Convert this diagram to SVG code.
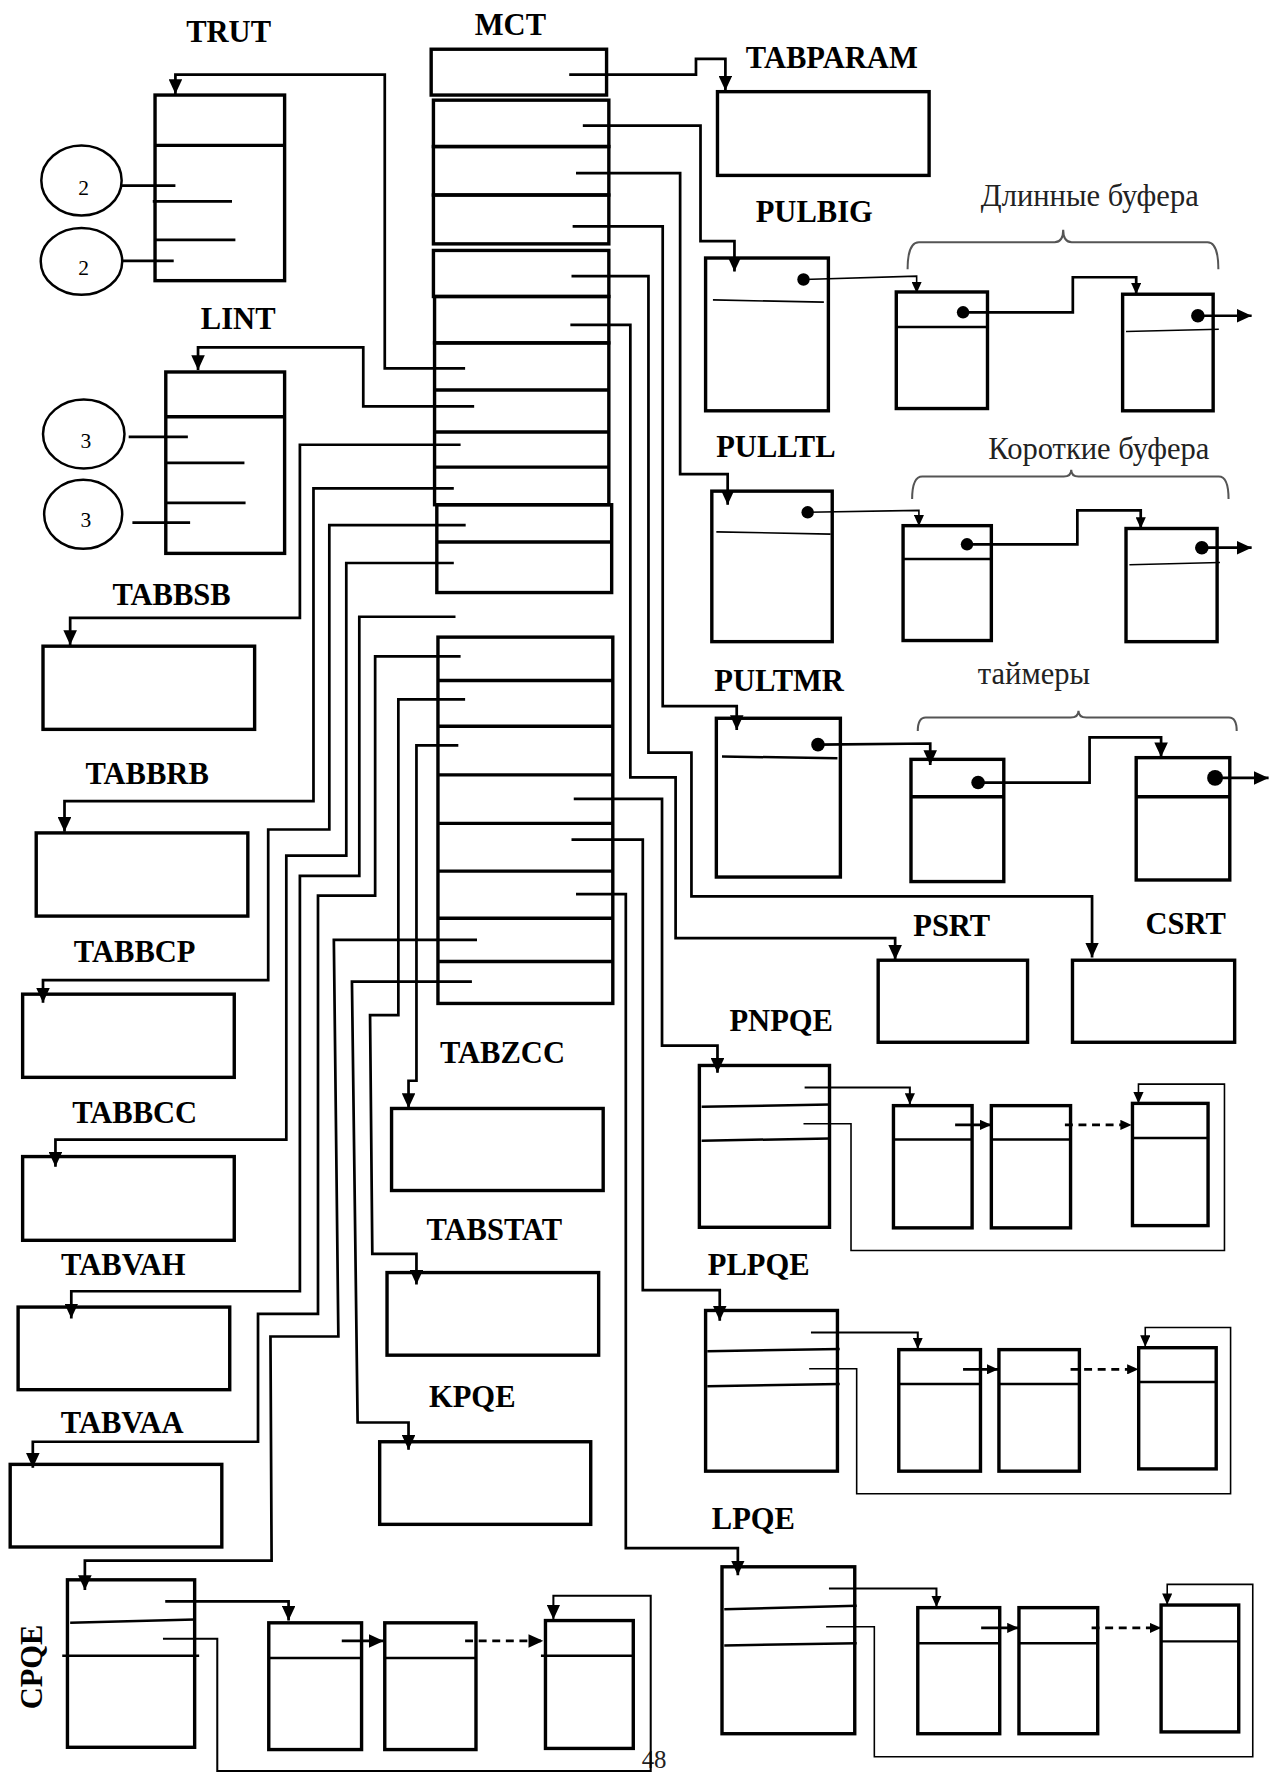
<svg xmlns="http://www.w3.org/2000/svg" width="1272" height="1775" viewBox="0 0 1272 1775">
<defs>
<style>
.b{fill:none;stroke:#000;stroke-width:3}
.t{fill:none;stroke:#000;stroke-width:1.4}
.m{fill:none;stroke:#000;stroke-width:2.2}
.c{fill:none;stroke:#000;stroke-width:2.4}
.cs{fill:none;stroke:#000;stroke-width:1.8}
.d{stroke-dasharray:7 5}
.br{fill:none;stroke:#555;stroke-width:1.8}
.L{font-family:"Liberation Serif","Times New Roman",serif;font-weight:bold;font-size:27px;text-anchor:middle;fill:#000}
.N{font-family:"Liberation Serif","Times New Roman",serif;font-size:27px;text-anchor:middle;fill:#222}
.dig{font-family:"Liberation Serif","Times New Roman",serif;font-size:19px;text-anchor:middle;fill:#000}
.dot{fill:#000}
</style>
<marker id="A" viewBox="0 0 13 12" refX="13" refY="6" markerWidth="13" markerHeight="12" markerUnits="userSpaceOnUse" orient="auto"><path d="M0,0L13,6L0,12z"/></marker>
<marker id="S" viewBox="0 0 10 9" refX="10" refY="4.5" markerWidth="10" markerHeight="9" markerUnits="userSpaceOnUse" orient="auto"><path d="M0,0L10,4.5L0,9z"/></marker>
</defs>
<rect width="1272" height="1775" fill="#fff"/>
<g transform="scale(1.13167)">

<g id="TRUT">
<text class="L" x="202" y="37">TRUT</text>
<rect class="b" x="137" y="84" width="114.5" height="164"/>
<line class="b" x1="137" y1="128.5" x2="251.5" y2="128.5"/>
<path class="c" d="M135,178H205M137,212H208"/>
<ellipse class="m" cx="72" cy="159.5" rx="35.5" ry="31"/>
<ellipse class="m" cx="72" cy="231" rx="36" ry="29.5"/>
<path class="c" d="M107.5,164H155M108,230.5H153.5"/>
<text class="dig" x="74" y="172">2</text>
<text class="dig" x="74" y="243">2</text>
</g>

<g id="LINT">
<text class="L" x="210.5" y="291">LINT</text>
<rect class="b" x="146.5" y="328.7" width="105" height="160.3"/>
<line class="b" x1="146.5" y1="368.2" x2="251.5" y2="368.2"/>
<path class="c" d="M147,409H216M147,444.3H217"/>
<ellipse class="m" cx="74" cy="383.5" rx="36" ry="30.5"/>
<ellipse class="m" cx="73.5" cy="454.5" rx="34.5" ry="30.5"/>
<path class="c" d="M113.7,386H166M117,461.8H168"/>
<text class="dig" x="75.8" y="396">3</text>
<text class="dig" x="75.8" y="465.5">3</text>
</g>

<g id="MCT">
<text class="L" x="451" y="31">MCT</text>
<rect class="b" x="381" y="43.5" width="155" height="40.5"/>
<rect class="b" x="383" y="88.5" width="155" height="41"/>
<rect class="b" x="383" y="129.5" width="155" height="42.8"/>
<rect class="b" x="383" y="172.3" width="155" height="43.2"/>
<rect class="b" x="383" y="221.3" width="155" height="40.7"/>
<rect class="b" x="384" y="262" width="154" height="41"/>
<rect class="b" x="384" y="303" width="154" height="143"/>
<path class="b" d="M384,344.6H538M384,381.8H538M384,412.8H538"/>
<rect class="b" x="386" y="446" width="154.5" height="77.6"/>
<line class="b" x1="386" y1="479" x2="540.5" y2="479"/>
<rect class="b" x="387" y="563" width="154.5" height="323.7"/>
<path class="b" d="M387,601.3H541.5M387,641.8H541.5M387,684.7H541.5M387,727.6H541.5M387,769.8H541.5M387,811.4H541.5M387,849.6H541.5"/>
</g>

<g id="TABPARAM">
<text class="L" x="735" y="60">TABPARAM</text>
<rect class="b" x="634" y="81" width="187" height="74"/>
</g>

<g id="PULBIG">
<text class="L" x="719.5" y="196">PULBIG</text>
<rect class="b" x="623.5" y="228" width="108.5" height="135"/>
<path class="t" d="M630,265L728,267"/>
<circle class="dot" cx="710" cy="247" r="5.5"/>
</g>
<g id="long-buffers">
<text class="N" x="963" y="182">Длинные буфера</text>
<path class="br" d="M802,238Q802,214 812,214H932Q939.5,214 939.5,203Q939.5,214 947,214H1067Q1076.6,214 1076.6,238"/>
<rect class="b" x="792" y="258" width="80.6" height="103"/>
<line class="m" x1="792" y1="289" x2="872.6" y2="289"/>
<circle class="dot" cx="851" cy="276" r="5.5"/>
<rect class="b" x="992" y="260" width="80" height="103"/>
<path class="t" d="M995,293L1077,291"/>
<circle class="dot" cx="1058.5" cy="279" r="6"/>
</g>

<g id="PULLTL">
<text class="L" x="685.6" y="404">PULLTL</text>
<rect class="b" x="629" y="434" width="106.4" height="133"/>
<path class="t" d="M633,470L734,472"/>
<circle class="dot" cx="713.7" cy="452.7" r="5.5"/>
</g>
<g id="short-buffers">
<text class="N" x="971" y="405.5">Короткие буфера</text>
<path class="br" d="M806,441Q806,421 815,421H940Q946.6,421 946.6,415Q946.6,421 953,421H1077Q1085.6,421 1085.6,441"/>
<rect class="b" x="798" y="464.5" width="78" height="101.5"/>
<line class="m" x1="798" y1="494" x2="876" y2="494"/>
<circle class="dot" cx="854.5" cy="481" r="5.5"/>
<rect class="b" x="995" y="467" width="80.5" height="100"/>
<path class="t" d="M998,499L1078,497"/>
<circle class="dot" cx="1062" cy="484" r="6"/>
</g>

<g id="PULTMR">
<text class="L" x="688.5" y="611">PULTMR</text>
<rect class="b" x="633" y="634.7" width="109.6" height="140.3"/>
<path class="m" d="M638,668.5L740,670"/>
<circle class="dot" cx="722.8" cy="658" r="6"/>
</g>
<g id="timers">
<text class="N" x="913.7" y="604">таймеры</text>
<path class="br" d="M811,646Q811,634 818,634H946Q953,634 953,628Q953,634 960,634H1086Q1092.8,634 1092.8,646"/>
<rect class="b" x="805" y="671" width="82" height="108"/>
<line class="b" x1="805" y1="704" x2="887" y2="704"/>
<circle class="dot" cx="864.3" cy="691.5" r="6"/>
<rect class="b" x="1004" y="669.5" width="82.7" height="108.1"/>
<line class="b" x1="1004" y1="704" x2="1086.7" y2="704"/>
<circle class="dot" cx="1073.7" cy="687.4" r="7"/>
</g>

<g id="PSRT">
<text class="L" x="841" y="827">PSRT</text>
<rect class="b" x="776" y="848.5" width="132" height="72.5"/>
</g>
<g id="CSRT">
<text class="L" x="1047.7" y="825">CSRT</text>
<rect class="b" x="947.7" y="848.5" width="143.3" height="72.5"/>
</g>

<g id="PNPQE">
<text class="L" x="690.3" y="911">PNPQE</text>
<rect class="b" x="618" y="941.5" width="115" height="143"/>
<path class="m" d="M620,978L733,976M620,1008L733,1006"/>
<rect class="b" x="789.5" y="977" width="69.5" height="108"/>
<line class="m" x1="789.5" y1="1007" x2="859" y2="1007"/>
<rect class="b" x="876" y="977" width="70" height="108"/>
<line class="m" x1="876" y1="1007" x2="946" y2="1007"/>
<rect class="b" x="1000.7" y="975" width="66.8" height="108"/>
<line class="m" x1="1000.7" y1="1005.6" x2="1067.5" y2="1005.6"/>
</g>

<g id="PLPQE">
<text class="L" x="670.4" y="1127">PLPQE</text>
<rect class="b" x="623.5" y="1158" width="116.5" height="142"/>
<path class="m" d="M625,1194L742,1192M625,1225L742,1223"/>
<rect class="b" x="794.2" y="1192.6" width="72.2" height="107.4"/>
<line class="m" x1="794.2" y1="1223" x2="866.4" y2="1223"/>
<rect class="b" x="882.7" y="1192.6" width="71.1" height="107.4"/>
<line class="m" x1="882.7" y1="1223" x2="953.8" y2="1223"/>
<rect class="b" x="1006.2" y="1190.9" width="68.5" height="107.1"/>
<line class="m" x1="1006.2" y1="1221.3" x2="1074.7" y2="1221.3"/>
</g>

<g id="LPQE">
<text class="L" x="665.7" y="1351">LPQE</text>
<rect class="b" x="638" y="1384.5" width="117.3" height="147.5"/>
<path class="m" d="M640,1422L757,1419M640,1454L757,1452"/>
<rect class="b" x="811" y="1420.6" width="72.4" height="111.4"/>
<line class="m" x1="811" y1="1452" x2="883.4" y2="1452"/>
<rect class="b" x="900.4" y="1420.6" width="69.6" height="111.4"/>
<line class="m" x1="900.4" y1="1452" x2="970" y2="1452"/>
<rect class="b" x="1026" y="1418.3" width="68.6" height="112.1"/>
<line class="m" x1="1026" y1="1450.4" x2="1094.6" y2="1450.4"/>
</g>

<g id="CPQE">
<text class="L" transform="translate(37,1473) rotate(-90)">CPQE</text>
<rect class="b" x="59.6" y="1396" width="112.4" height="148"/>
<path class="m" d="M62,1434L172,1431M55,1463H176"/>
<rect class="b" x="237.5" y="1434" width="82" height="112"/>
<line class="m" x1="237.5" y1="1465" x2="319.5" y2="1465"/>
<rect class="b" x="340" y="1434" width="80.6" height="112"/>
<line class="m" x1="340" y1="1465" x2="420.6" y2="1465"/>
<rect class="b" x="482" y="1432" width="77.6" height="113"/>
<line class="m" x1="478" y1="1463" x2="559.6" y2="1463"/>
</g>

<g id="TABBSB">
<text class="L" x="151.6" y="535">TABBSB</text>
<rect class="b" x="38" y="571" width="187" height="73.5"/>
</g>
<g id="TABBRB">
<text class="L" x="130" y="693">TABBRB</text>
<rect class="b" x="32" y="736" width="187" height="73.5"/>
</g>
<g id="TABBCP">
<text class="L" x="119" y="850">TABBCP</text>
<rect class="b" x="20" y="878.5" width="187" height="73.5"/>
</g>
<g id="TABBCC">
<text class="L" x="119" y="992">TABBCC</text>
<rect class="b" x="20" y="1022" width="187" height="74"/>
</g>
<g id="TABVAH">
<text class="L" x="109" y="1127">TABVAH</text>
<rect class="b" x="16" y="1155" width="187" height="73"/>
</g>
<g id="TABVAA">
<text class="L" x="108" y="1266">TABVAA</text>
<rect class="b" x="9" y="1294" width="187" height="73"/>
</g>
<g id="TABZCC">
<text class="L" x="444" y="939">TABZCC</text>
<rect class="b" x="346" y="979.5" width="187" height="72.5"/>
</g>
<g id="TABSTAT">
<text class="L" x="436.8" y="1096">TABSTAT</text>
<rect class="b" x="342" y="1124.5" width="187" height="73"/>
</g>
<g id="KPQE">
<text class="L" x="417.3" y="1243">KPQE</text>
<rect class="b" x="335.5" y="1274" width="186.5" height="73"/>
</g>

<g id="page-number">
<text class="N" x="578" y="1562" style="font-size:22px">48</text>
</g>

<g id="connectors">
<path class="c" marker-end="url(#A)" d="M503,66H615V52H641V80"/>
<path class="c" marker-end="url(#A)" d="M515,111H619V213H649V240"/>
<path class="c" marker-end="url(#A)" d="M509,153H601V419H643V446"/>
<path class="c" marker-end="url(#A)" d="M506,200H585.6V624H651V645"/>
<path class="c" marker-end="url(#A)" d="M505,244H573V665H611V792H965V846"/>
<path class="c" marker-end="url(#A)" d="M504,287H557V687H597V829H791V848"/>
<path class="c" marker-end="url(#A)" d="M507,706H585V924H634V948"/>
<path class="c" marker-end="url(#A)" d="M505,742H568V1140H636V1167"/>
<path class="c" marker-end="url(#A)" d="M509,790H553V1368H652V1392"/>

<path class="c" marker-end="url(#A)" d="M411,325.5H340V66H155V83"/>
<path class="c" marker-end="url(#A)" d="M419,359H321V307H175V327"/>
<path class="c" marker-end="url(#A)" d="M407,393H265V546H62V570"/>
<path class="c" marker-end="url(#A)" d="M401,431.5H277V708H57V735"/>
<path class="c" marker-end="url(#A)" d="M411.5,464H291V733H237V866H38V886"/>
<path class="c" marker-end="url(#A)" d="M401,497.5H306V756H253V1007H49V1031"/>
<path class="c" marker-end="url(#A)" d="M402.5,545H317.5V774H265V1141H63V1165"/>
<path class="c" marker-end="url(#A)" d="M407,580H331.5V791.5H281V1161H228V1274H29V1297"/>
<path class="c" marker-end="url(#A)" d="M421.5,830.6H295L299,1181H239L240,1379H75V1405"/>
<path class="c" marker-end="url(#A)" d="M417,867.5H311L316,1257H361V1281"/>
<path class="c" marker-end="url(#A)" d="M411,618H352V897H327L329,1108H368V1135"/>
<path class="c" marker-end="url(#A)" d="M405,658.6H368V955H361V979"/>

<path class="c" marker-end="url(#A)" d="M146,1415H255V1432"/>
<path class="cs" marker-end="url(#A)" d="M144,1448H192V1565H575V1410H489V1431"/>
<path class="c" marker-end="url(#A)" d="M302,1450H339"/>
<path class="c d" marker-end="url(#A)" d="M411,1450H480"/>

<path class="cs" marker-end="url(#S)" d="M711,961H804V976"/>
<path class="t" marker-end="url(#S)" d="M710,993H752V1105H1082V958H1006V975"/>
<path class="c" marker-end="url(#S)" d="M844,994H876"/>
<path class="c d" marker-end="url(#S)" d="M941,994H1000"/>

<path class="cs" marker-end="url(#S)" d="M716.6,1177.4H811V1192"/>
<path class="t" marker-end="url(#S)" d="M715,1209.5H757V1320H1087.4V1173H1012V1190"/>
<path class="c" marker-end="url(#S)" d="M851,1210H882"/>
<path class="c d" marker-end="url(#S)" d="M946,1210H1006"/>

<path class="cs" marker-end="url(#S)" d="M732.5,1403.7H827.5V1420"/>
<path class="t" marker-end="url(#S)" d="M730,1437.5H772.6V1552.4H1107V1400H1031.4V1418"/>
<path class="c" marker-end="url(#S)" d="M867,1438.5H900"/>
<path class="c d" marker-end="url(#S)" d="M964.6,1438.5H1026"/>

<path class="t" marker-end="url(#S)" d="M710,247L810,244V259"/>
<path class="c" marker-end="url(#S)" d="M851,276H948V245H1004V260"/>
<path class="c" marker-end="url(#A)" d="M1058.5,279H1106"/>
<path class="t" marker-end="url(#S)" d="M714,452.7L812,451V465"/>
<path class="c" marker-end="url(#S)" d="M854.5,481H952V451H1008V467"/>
<path class="c" marker-end="url(#A)" d="M1062,484H1106"/>
<path class="c" marker-end="url(#A)" d="M722.8,658L822,657V676"/>
<path class="c" marker-end="url(#A)" d="M864.3,691.5H962.8V651.6H1026V669"/>
<path class="c" marker-end="url(#A)" d="M1073.7,687.4H1121"/>
</g>
</g>
</svg>
